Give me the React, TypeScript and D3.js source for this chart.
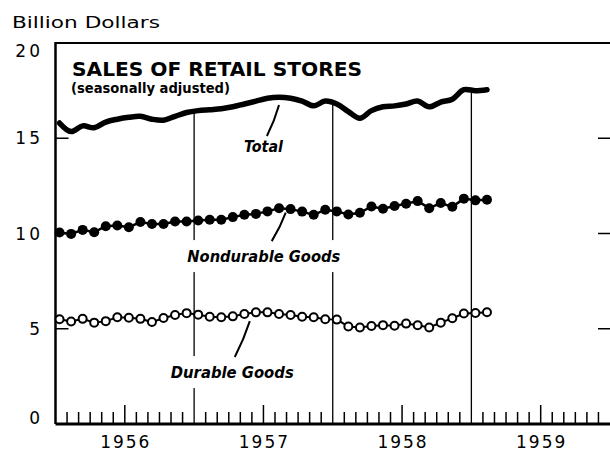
import React from "react";
import * as d3 from "d3";

// --- Configuration ---
const W = 610;
const H = 457;
const FONT = "'DejaVu Sans', sans-serif";

const YEARS = ["1956", "1957", "1958", "1959"];
const Y_TICKS = [0, 5, 10, 15, 20];

// monthly values, Jan 1956 .. Feb 1959 (billion dollars)
const TOTAL = [
  15.8, 15.35, 15.65, 15.55, 15.85, 16.0, 16.1, 16.15, 16.0, 15.95, 16.15, 16.35,
  16.45, 16.5, 16.55, 16.65, 16.8, 16.95, 17.1, 17.15, 17.1, 16.95, 16.7, 16.95,
  16.8, 16.4, 16.05, 16.45, 16.65, 16.7, 16.8, 16.95, 16.65, 16.9, 17.05, 17.55,
  17.5, 17.55,
];
const NONDURABLE = [
  10.05, 9.98, 10.19, 10.07, 10.38, 10.42, 10.33, 10.6, 10.5, 10.5, 10.63, 10.63,
  10.68, 10.72, 10.72, 10.86, 10.98, 11.03, 11.16, 11.33, 11.28, 11.15, 10.98, 11.25,
  11.16, 11.0, 11.09, 11.42, 11.3, 11.44, 11.56, 11.7, 11.33, 11.6, 11.4, 11.83,
  11.74, 11.77,
];
const DURABLE = [
  5.5, 5.38, 5.52, 5.32, 5.4, 5.6, 5.58, 5.52, 5.35, 5.56, 5.72, 5.82,
  5.74, 5.63, 5.6, 5.65, 5.77, 5.86, 5.86, 5.77, 5.72, 5.63, 5.6, 5.5,
  5.48, 5.12, 5.07, 5.14, 5.19, 5.16, 5.27, 5.18, 5.07, 5.32, 5.55, 5.8,
  5.83, 5.87,
];

// series labels: position in months / billions, leader line from -> to
const LABELS = [
  { text: "Total", mx: 18.0, v: 14.28, len: 39, from: [18.3, 15.12], to: [19.35, 16.75] },
  { text: "Nondurable Goods", mx: 18.03, v: 8.5, len: 153, from: [18.72, 9.6], to: [19.93, 11.1] },
  { text: "Durable Goods", mx: 15.3, v: 2.41, len: 123, from: [15.52, 3.52], to: [16.82, 5.4] },
];

const OFFSET = 0.35; // where in the month the point sits

export default function App() {
  const x = d3.scaleLinear().domain([0, 48]).range([55.5, 610]);
  const y = d3.scaleLinear().domain([0, 20]).range([424, 43]);

  const line = (curve: d3.CurveFactory) =>
    d3
      .line<number>()
      .x((d, i) => x(i + OFFSET))
      .y((d) => y(d))
      .curve(curve);

  const totalAt = (m: number) => {
    const i = m - OFFSET;
    const lo = Math.floor(i);
    return TOTAL[lo] + (TOTAL[lo + 1] - TOTAL[lo]) * (i - lo);
  };

  const monthTicks = d3.range(1, 48).filter((m) => m % 12 !== 0);
  const dividers = [12, 24, 36];

  return (
    <svg
      width={W}
      height={H}
      style={{ position: "absolute", left: 0, top: 0, background: "#fff" }}
      fontFamily={FONT}
    >
      <rect width={W} height={H} fill="#fff" />

      {/* axis title */}
      <text x={12} y={28} fontSize={16.5} textLength={148} lengthAdjust="spacingAndGlyphs">
        Billion Dollars
      </text>

      {/* y tick labels */}
      {Y_TICKS.map((t, i) => (
        <text
          key={t}
          x={43}
          y={y(t)}
          dy={i === 0 ? 0 : i === Y_TICKS.length - 1 ? 14 : 6}
          fontSize={17}
          letterSpacing={3}
          textAnchor="end"
        >
          {t}
        </text>
      ))}

      {/* frame */}
      <line x1={x(0)} x2={W + 2} y1={y(20)} y2={y(20)} stroke="#000" strokeWidth={2} />
      <line x1={x(0)} x2={x(0)} y1={y(20) - 1} y2={y(0)} stroke="#000" strokeWidth={2.5} />
      {[5, 10, 15].map((t) => (
        <g key={t}>
          <line x1={x(0)} x2={x(0) + 13} y1={y(t)} y2={y(t)} stroke="#000" strokeWidth={1.5} />
          <line x1={598} x2={W + 2} y1={y(t)} y2={y(t)} stroke="#000" strokeWidth={1.5} />
        </g>
      ))}

      {/* month ticks */}
      {monthTicks.map((m) => (
        <line
          key={m}
          x1={x(m)}
          x2={x(m)}
          y1={y(0)}
          y2={y(0) - (m % 12 === 6 ? 19 : 12)}
          stroke="#000"
          strokeWidth={1.5}
        />
      ))}

      {/* year dividers up to the total line */}
      {dividers.map((m) => (
        <line
          key={m}
          x1={x(m)}
          x2={x(m)}
          y1={y(0)}
          y2={y(totalAt(m))}
          stroke="#000"
          strokeWidth={1.3}
        />
      ))}
      <line x1={x(0)} x2={W + 2} y1={y(0)} y2={y(0)} stroke="#000" strokeWidth={3} />

      {/* year labels */}
      {YEARS.map((yr, i) => (
        <text
          key={yr}
          x={x(i * 12 + 6) + 1}
          y={448}
          fontSize={17}
          letterSpacing={2}
          textAnchor="middle"
        >
          {yr}
        </text>
      ))}

      {/* white knock-outs behind labels */}
      {LABELS.map((l) => (
        <rect
          key={l.text}
          x={x(l.mx) - l.len / 2 - 4}
          y={y(l.v) - 22}
          width={l.len + 8}
          height={32}
          fill="#fff"
        />
      ))}

      {/* title */}
      <text x={72} y={76} fontSize={20} fontWeight="bold" textLength={290} lengthAdjust="spacingAndGlyphs">
        SALES OF RETAIL STORES
      </text>
      <text x={71} y={93} fontSize={14} fontWeight="bold" textLength={159} lengthAdjust="spacingAndGlyphs">
        (seasonally adjusted)
      </text>

      {/* series */}
      <path
        d={line(d3.curveCatmullRom.alpha(0.5))(TOTAL) || ""}
        fill="none"
        stroke="#000"
        strokeWidth={5.5}
        strokeLinejoin="round"
        strokeLinecap="round"
      />
      <path d={line(d3.curveLinear)(NONDURABLE) || ""} fill="none" stroke="#000" strokeWidth={2.5} />
      {NONDURABLE.map((v, i) => (
        <circle key={i} cx={x(i + OFFSET)} cy={y(v)} r={5} fill="#000" />
      ))}
      <path d={line(d3.curveLinear)(DURABLE) || ""} fill="none" stroke="#000" strokeWidth={2} />
      {DURABLE.map((v, i) => (
        <circle key={i} cx={x(i + OFFSET)} cy={y(v)} r={4} fill="#fff" stroke="#000" strokeWidth={2} />
      ))}

      {/* labels & leaders */}
      {LABELS.map((l) => (
        <g key={l.text}>
          <path
            d={`M${x(l.from[0])},${y(l.from[1])} Q${x((l.from[0] + l.to[0]) / 2 + 0.15)},${y(
              (l.from[1] + l.to[1]) / 2
            )} ${x(l.to[0])},${y(l.to[1])}`}
            fill="none"
            stroke="#000"
            strokeWidth={2}
          />
          <text
            x={x(l.mx)}
            y={y(l.v)}
            fontSize={15}
            fontWeight="bold"
            fontStyle="italic"
            textAnchor="middle"
            textLength={l.len}
            lengthAdjust="spacingAndGlyphs"
          >
            {l.text}
          </text>
        </g>
      ))}
    </svg>
  );
}
